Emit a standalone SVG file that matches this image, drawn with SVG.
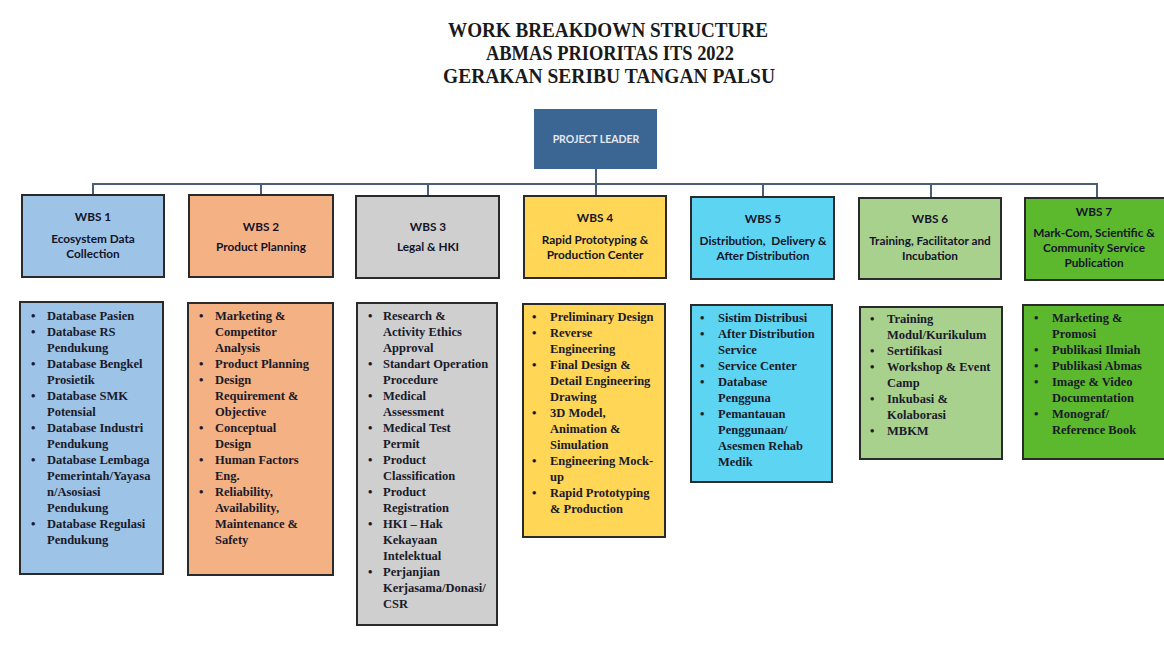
<svg xmlns="http://www.w3.org/2000/svg" width="1164" height="653" viewBox="0 0 1164 653">
<style>
.title{font-family:"Liberation Serif","Times New Roman",serif;font-weight:bold;font-size:20px;fill:#1a1a1a;text-anchor:middle}
.hdr{font-family:Lato,"Liberation Sans",sans-serif;font-weight:bold;font-size:11.8px;fill:#141428;text-anchor:middle}
.item{font-family:"Liberation Serif","Times New Roman",serif;font-weight:bold;font-size:12.5px;fill:#1a1a2a}
.box{stroke:#2a2a2a;stroke-width:2}
.conn{stroke:#4a5e7a;stroke-width:2;fill:none}
</style>
<rect x="0" y="0" width="1164" height="653" fill="#ffffff"/>
<g id="title">
<text class="title" x="608" y="37" textLength="320" lengthAdjust="spacingAndGlyphs">WORK BREAKDOWN STRUCTURE</text>
<text class="title" x="610" y="60" textLength="248" lengthAdjust="spacingAndGlyphs">ABMAS PRIORITAS ITS 2022</text>
<text class="title" x="609" y="83" textLength="332" lengthAdjust="spacingAndGlyphs">GERAKAN SERIBU TANGAN PALSU</text>
</g>
<g id="connectors">
<path class="conn" d="M596 169 V184"/>
<path class="conn" d="M93 195 V184 H1097 V197"/>
<path class="conn" d="M261 184 V195 M428 184 V195 M596 184 V195 M763 184 V197 M931 184 V197"/>
</g>
<g id="project-leader">
<rect x="534" y="109" width="123" height="60" fill="#3b6592"/>
<text x="596" y="143" font-family="Lato,'Liberation Sans',sans-serif" font-weight="bold" font-size="10.5" fill="#e4e9f0" text-anchor="middle">PROJECT LEADER</text>
</g>
<g id="wbs1">
<rect class="box" x="22" y="195" width="142" height="82" fill="#9dc3e6"/>
<text class="hdr" x="93" y="221">WBS 1</text>
<text class="hdr" x="93" y="243">Ecosystem Data</text>
<text class="hdr" x="93" y="258">Collection</text>
</g>
<g id="wbs2">
<rect class="box" x="189" y="195" width="144" height="82" fill="#f4b183"/>
<text class="hdr" x="261" y="231">WBS 2</text>
<text class="hdr" x="261" y="251">Product Planning</text>
</g>
<g id="wbs3">
<rect class="box" x="356" y="196" width="143" height="82" fill="#cfcfcf"/>
<text class="hdr" x="428" y="231">WBS 3</text>
<text class="hdr" x="428" y="251">Legal &amp; HKI</text>
</g>
<g id="wbs4">
<rect class="box" x="524" y="196" width="142" height="82" fill="#ffd655"/>
<text class="hdr" x="595" y="222">WBS 4</text>
<text class="hdr" x="595" y="244">Rapid Prototyping &amp;</text>
<text class="hdr" x="595" y="259">Production Center</text>
</g>
<g id="wbs5">
<rect class="box" x="691" y="197" width="143" height="82" fill="#5dd5f2"/>
<text class="hdr" x="763" y="223">WBS 5</text>
<text class="hdr" x="763" y="245" xml:space="preserve">Distribution,  Delivery &amp;</text>
<text class="hdr" x="763" y="260">After Distribution</text>
</g>
<g id="wbs6">
<rect class="box" x="859" y="198" width="142" height="81" fill="#a9d18e"/>
<text class="hdr" x="930" y="223">WBS 6</text>
<text class="hdr" x="930" y="245">Training, Facilitator and</text>
<text class="hdr" x="930" y="260">Incubation</text>
</g>
<g id="wbs7">
<rect class="box" x="1025" y="198" width="140" height="82" fill="#5cb82c"/>
<text class="hdr" x="1094" y="216">WBS 7</text>
<text class="hdr" x="1094" y="237">Mark-Com, Scientific &amp;</text>
<text class="hdr" x="1094" y="252">Community Service</text>
<text class="hdr" x="1094" y="267">Publication</text>
</g>
<g id="list1">
<rect class="box" x="20" y="302" width="143" height="272" fill="#9dc3e6"/>
<g class="item">
<text x="31" y="320">•</text><text x="47" y="320">Database Pasien</text>
<text x="31" y="336">•</text><text x="47" y="336">Database RS</text>
<text x="47" y="352">Pendukung</text>
<text x="31" y="368">•</text><text x="47" y="368">Database Bengkel</text>
<text x="47" y="384">Prosietik</text>
<text x="31" y="400">•</text><text x="47" y="400">Database SMK</text>
<text x="47" y="416">Potensial</text>
<text x="31" y="432">•</text><text x="47" y="432">Database Industri</text>
<text x="47" y="448">Pendukung</text>
<text x="31" y="464">•</text><text x="47" y="464">Database Lembaga</text>
<text x="47" y="480">Pemerintah/Yayasa</text>
<text x="47" y="496">n/Asosiasi</text>
<text x="47" y="512">Pendukung</text>
<text x="31" y="528">•</text><text x="47" y="528">Database Regulasi</text>
<text x="47" y="544">Pendukung</text>
</g>
</g>
<g id="list2">
<rect class="box" x="188" y="303" width="145" height="272" fill="#f4b183"/>
<g class="item">
<text x="199" y="320">•</text><text x="215" y="320">Marketing &amp;</text>
<text x="215" y="336">Competitor</text>
<text x="215" y="352">Analysis</text>
<text x="199" y="368">•</text><text x="215" y="368">Product Planning</text>
<text x="199" y="384">•</text><text x="215" y="384">Design</text>
<text x="215" y="400">Requirement &amp;</text>
<text x="215" y="416">Objective</text>
<text x="199" y="432">•</text><text x="215" y="432">Conceptual</text>
<text x="215" y="448">Design</text>
<text x="199" y="464">•</text><text x="215" y="464">Human Factors</text>
<text x="215" y="480">Eng.</text>
<text x="199" y="496">•</text><text x="215" y="496">Reliability,</text>
<text x="215" y="512">Availability,</text>
<text x="215" y="528">Maintenance &amp;</text>
<text x="215" y="544">Safety</text>
</g>
</g>
<g id="list3">
<rect class="box" x="357" y="303" width="140" height="322" fill="#cfcfcf"/>
<g class="item">
<text x="368" y="320">•</text><text x="383" y="320">Research &amp;</text>
<text x="383" y="336">Activity Ethics</text>
<text x="383" y="352">Approval</text>
<text x="368" y="368">•</text><text x="383" y="368">Standart Operation</text>
<text x="383" y="384">Procedure</text>
<text x="368" y="400">•</text><text x="383" y="400">Medical</text>
<text x="383" y="416">Assessment</text>
<text x="368" y="432">•</text><text x="383" y="432">Medical Test</text>
<text x="383" y="448">Permit</text>
<text x="368" y="464">•</text><text x="383" y="464">Product</text>
<text x="383" y="480">Classification</text>
<text x="368" y="496">•</text><text x="383" y="496">Product</text>
<text x="383" y="512">Registration</text>
<text x="368" y="528">•</text><text x="383" y="528">HKI – Hak</text>
<text x="383" y="544">Kekayaan</text>
<text x="383" y="560">Intelektual</text>
<text x="368" y="576">•</text><text x="383" y="576">Perjanjian</text>
<text x="383" y="592">Kerjasama/Donasi/</text>
<text x="383" y="608">CSR</text>
</g>
</g>
<g id="list4">
<rect class="box" x="523" y="304" width="142" height="233" fill="#ffd655"/>
<g class="item">
<text x="532" y="321">•</text><text x="550" y="321">Preliminary Design</text>
<text x="532" y="337">•</text><text x="550" y="337">Reverse</text>
<text x="550" y="353">Engineering</text>
<text x="532" y="369">•</text><text x="550" y="369">Final Design &amp;</text>
<text x="550" y="385">Detail Engineering</text>
<text x="550" y="401">Drawing</text>
<text x="532" y="417">•</text><text x="550" y="417">3D Model,</text>
<text x="550" y="433">Animation &amp;</text>
<text x="550" y="449">Simulation</text>
<text x="532" y="465">•</text><text x="550" y="465">Engineering Mock-</text>
<text x="550" y="481">up</text>
<text x="532" y="497">•</text><text x="550" y="497">Rapid Prototyping</text>
<text x="550" y="513">&amp; Production</text>
</g>
</g>
<g id="list5">
<rect class="box" x="691" y="305" width="141" height="177" fill="#5dd5f2"/>
<g class="item">
<text x="700" y="322">•</text><text x="718" y="322">Sistim Distribusi</text>
<text x="700" y="338">•</text><text x="718" y="338">After Distribution</text>
<text x="718" y="354">Service</text>
<text x="700" y="370">•</text><text x="718" y="370">Service Center</text>
<text x="700" y="386">•</text><text x="718" y="386">Database</text>
<text x="718" y="402">Pengguna</text>
<text x="700" y="418">•</text><text x="718" y="418">Pemantauan</text>
<text x="718" y="434">Penggunaan/</text>
<text x="718" y="450">Asesmen Rehab</text>
<text x="718" y="466">Medik</text>
</g>
</g>
<g id="list6">
<rect class="box" x="860" y="307" width="142" height="152" fill="#a9d18e"/>
<g class="item">
<text x="870" y="323">•</text><text x="887" y="323">Training</text>
<text x="887" y="339">Modul/Kurikulum</text>
<text x="870" y="355">•</text><text x="887" y="355">Sertifikasi</text>
<text x="870" y="371">•</text><text x="887" y="371">Workshop &amp; Event</text>
<text x="887" y="387">Camp</text>
<text x="870" y="403">•</text><text x="887" y="403">Inkubasi &amp;</text>
<text x="887" y="419">Kolaborasi</text>
<text x="870" y="435">•</text><text x="887" y="435">MBKM</text>
</g>
</g>
<g id="list7">
<rect class="box" x="1023" y="305" width="142" height="154" fill="#5cb82c"/>
<g class="item">
<text x="1034" y="322">•</text><text x="1052" y="322">Marketing &amp;</text>
<text x="1052" y="338">Promosi</text>
<text x="1034" y="354">•</text><text x="1052" y="354">Publikasi Ilmiah</text>
<text x="1034" y="370">•</text><text x="1052" y="370">Publikasi Abmas</text>
<text x="1034" y="386">•</text><text x="1052" y="386">Image &amp; Video</text>
<text x="1052" y="402">Documentation</text>
<text x="1034" y="418">•</text><text x="1052" y="418">Monograf/</text>
<text x="1052" y="434">Reference Book</text>
</g>
</g>
</svg>
